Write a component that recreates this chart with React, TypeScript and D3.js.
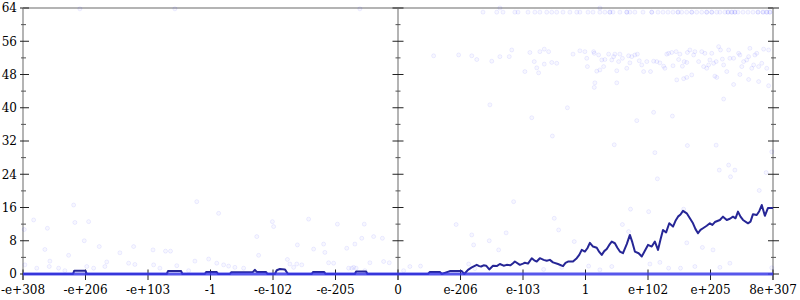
import React from "react";
import * as d3 from "d3";

const X_LABELS = ["-e+308", "-e+206", "-e+103", "-1", "-e-102", "-e-205", "0", "e-206", "e-103", "1", "e+102", "e+205", "8e+307"];
const Y_MAJOR = [0, 8, 16, 24, 32, 40, 48, 56, 64];
const Y_MINOR = [4, 12, 20, 28, 36, 44, 52, 60];
const AXIS_POS = [0, 6, 12];

// navy series: [position, bits of error]
const NAVY_LINE: [number, number][] = [
  [0, 0], [0.8, 0], [0.82, 0.8], [1.0, 0.8], [1.02, 0], [2.3, 0], [2.32, 0.7], [2.53, 0.7], [2.55, 0],
  [2.91, 0], [2.93, 0.5], [3.1, 0.5], [3.12, 0], [3.31, 0], [3.33, 0.4], [3.68, 0.5], [3.71, 1.0], [3.74, 0.5],
  [3.89, 0.5], [3.91, 0], [4.03, 0], [4.06, 0.9], [4.11, 1.2], [4.19, 1.1], [4.24, 0], [4.62, 0], [4.64, 0.5],
  [4.82, 0.5], [4.84, 0], [5.31, 0], [5.33, 0.6], [5.49, 0.6], [5.51, 0], [6.0, 0],
  [6.48, 0], [6.51, 0.5], [6.67, 0.5], [6.7, 0], [6.83, 0.7], [7.02, 0.7], [7.06, 0], [7.12, 1.0], [7.18, 1.6],
  [7.26, 2.2], [7.3, 1.9], [7.33, 1.8], [7.37, 2.1], [7.41, 2.0], [7.46, 1.1], [7.52, 2.0], [7.58, 1.9], [7.63, 2.4], [7.69, 2.0],
  [7.74, 2.2], [7.8, 2.1], [7.84, 2.6], [7.87, 3.0], [7.95, 2.2], [8.0, 2.5], [8.03, 2.7], [8.08, 2.5], [8.14, 3.8], [8.18, 3.3], [8.22, 3.0],
  [8.27, 3.8], [8.33, 3.4], [8.38, 3.2], [8.43, 3.4], [8.48, 2.8], [8.56, 2.4], [8.64, 1.9], [8.68, 2.7], [8.72, 3.0],
  [8.8, 3.0], [8.86, 3.8], [8.9, 4.6], [8.94, 5.8], [8.99, 5.4], [9.03, 6.2], [9.07, 7.5], [9.12, 6.6], [9.18, 6.3], [9.22, 5.3], [9.26, 4.6],
  [9.3, 5.5], [9.34, 6.0], [9.38, 7.0], [9.42, 7.8], [9.47, 7.4], [9.51, 6.3], [9.55, 5.4], [9.6, 5.0], [9.66, 7.2], [9.71, 9.4], [9.75, 7.6], [9.79, 5.4],
  [9.85, 5.0], [9.9, 4.2], [9.95, 5.6], [10.0, 7.0], [10.06, 6.6], [10.11, 7.8], [10.16, 5.8], [10.2, 8.3], [10.24, 10.6],
  [10.29, 10.0], [10.34, 12.2], [10.4, 11.4], [10.44, 12.8], [10.48, 13.8], [10.52, 14.3], [10.56, 15.2], [10.62, 14.6], [10.67, 13.4],
  [10.72, 12.2], [10.76, 10.8], [10.8, 9.8], [10.84, 10.6], [10.88, 11.0], [10.94, 11.6], [10.99, 12.2], [11.03, 11.8], [11.07, 12.5], [11.15, 13.0],
  [11.2, 13.8], [11.26, 13.0], [11.31, 13.3], [11.36, 13.8], [11.4, 13.4], [11.44, 15.0], [11.48, 13.8], [11.52, 13.0], [11.6, 12.2],
  [11.64, 12.6], [11.68, 14.4], [11.74, 14.2], [11.78, 15.1], [11.82, 16.6], [11.87, 14.0], [11.92, 15.9], [12.0, 15.9],
];

// blue series
const BLUE_LINE: [number, number][] = [[0, 0], [12, 0]];

// sampled points near the ceiling
const POINTS_TOP: [number, number][] = [
  [0.91, 63.8], [2.43, 63.8], [5.39, 63.8], [7.63, 64], [9.23, 64],
  [7.36, 63], [7.58, 63], [7.68, 63], [7.87, 63], [7.92, 63], [8.08, 63], [8.19, 63], [8.27, 63], [8.38, 63],
  [8.46, 63], [8.54, 63], [8.64, 63], [8.75, 63], [8.86, 63], [8.91, 63], [9.04, 63], [9.12, 63], [9.23, 63],
  [9.31, 63], [9.39, 63], [9.39, 63], [9.44, 63], [9.55, 63], [9.66, 63], [9.66, 63], [9.71, 63], [9.79, 63],
  [9.92, 63], [10.06, 63], [10.06, 63], [10.16, 63], [10.24, 63], [10.32, 63], [10.4, 63], [10.48, 63],
  [10.48, 63], [10.54, 63], [10.62, 63], [10.7, 63], [10.7, 63], [10.78, 63], [10.86, 63], [10.94, 63],
  [10.94, 63], [11.02, 63], [11.02, 63], [11.1, 63], [11.15, 63], [11.23, 63], [11.28, 63], [11.28, 63],
  [11.34, 63], [11.34, 63], [11.39, 63], [11.39, 63], [11.44, 63], [11.52, 63], [11.6, 63], [11.68, 63],
  [11.76, 63], [11.76, 63], [11.84, 63], [11.84, 63], [11.9, 63], [11.9, 63], [11.95, 63], [11.95, 63],
];

// sampled points in the upper band
const POINTS_BAND: [number, number][] = [
  [6.57, 52.5], [6.97, 52.7], [7.18, 52.5], [7.26, 51.6], [7.5, 51.2], [7.63, 52.3], [7.78, 52.3], [7.82, 53.9],
  [8.03, 48.7], [8.11, 53.3], [8.18, 51.1], [8.22, 49.6], [8.25, 48.4], [8.27, 53.5], [8.34, 54.1], [8.34, 50.5],
  [8.41, 53.5], [8.46, 50.9], [8.54, 50.7], [8.8, 52.9], [8.91, 53.7], [8.99, 53.5], [9.02, 51.9], [9.03, 49.9],
  [9.13, 53.5], [9.14, 53.1], [9.18, 48.8], [9.21, 52.7], [9.23, 49.1], [9.26, 51.5], [9.29, 49.9], [9.31, 51.6],
  [9.37, 52.9], [9.42, 51.5], [9.45, 52.3], [9.47, 52.9], [9.5, 48.9], [9.53, 51.1], [9.55, 52.9], [9.59, 51.9],
  [9.66, 49.5], [9.69, 52.5], [9.71, 50.8], [9.74, 52.3], [9.79, 52.7], [9.83, 52.9], [9.86, 51.3], [9.9, 50.3],
  [9.93, 48.7], [9.98, 51.1], [10.04, 48.7], [10.09, 51.2], [10.14, 51.1], [10.19, 50.8], [10.25, 50.0],
  [10.27, 49.5], [10.3, 52.9], [10.33, 53.1], [10.38, 53.3], [10.4, 50.1], [10.45, 53.5], [10.49, 51.6],
  [10.51, 52.9], [10.55, 50.0], [10.58, 51.1], [10.62, 50.9], [10.63, 53.3], [10.67, 53.9], [10.73, 52.7],
  [10.75, 53.5], [10.81, 51.1], [10.86, 53.5], [10.89, 49.9], [10.91, 53.1], [10.94, 49.5], [10.97, 50.3],
  [10.99, 51.5], [11.02, 53.1], [11.05, 50.7], [11.09, 51.1], [11.13, 54.7], [11.16, 53.9], [11.19, 51.7],
  [11.21, 50.3], [11.26, 48.7], [11.29, 53.9], [11.31, 51.9], [11.37, 51.9], [11.45, 53.1], [11.47, 52.7],
  [11.5, 49.9], [11.53, 51.1], [11.58, 51.5], [11.61, 52.3], [11.63, 54.3], [11.66, 49.5], [11.69, 50.3],
  [11.71, 52.7], [11.74, 53.1], [11.77, 49.9], [11.82, 50.7], [11.85, 54.1], [11.9, 49.5], [11.93, 53.9],
  [9.15, 46.0], [9.14, 44.9], [9.5, 46.0], [10.46, 46.7], [10.57, 47.0], [10.62, 47.3], [10.7, 47.9],
  [11.07, 47.6], [11.1, 47.3], [11.47, 48.0], [11.61, 46.8], [11.77, 46.3],
];

// sampled points in the lower region
const POINTS_LOW: [number, number][] = [
  [11.37, 45.6], [11.93, 45.3], [11.21, 42.1], [7.47, 40.7], [8.71, 40.0], [8.14, 37.6], [10.09, 38.9],
  [10.39, 38.0], [9.82, 36.9], [8.47, 33.2], [9.46, 31.1], [10.11, 29.2], [10.63, 30.9], [11.09, 31.0],
  [11.14, 25.0], [11.29, 26.2], [11.39, 25.0], [11.32, 23.4], [11.89, 24.4], [11.98, 29.4], [10.15, 22.9],
  [11.78, 20.1], [7.85, 17.4], [9.72, 15.6], [10.57, 15.6],
  [6.93, 11.9], [7.18, 9.4], [7.73, 9.9], [7.46, 8.0], [7.61, 5.8], [8.5, 13.4], [8.57, 10.6], [8.82, 7.8],
  [6.19, 1.8], [6.36, 1.9], [7.13, 2.4], [7.23, 1.3], [8.33, 1.1], [8.62, 1.6], [6.09, 0.8], [7.21, 7.0],
  [10.01, 15.0], [9.59, 11.9], [9.69, 10.2], [10.62, 7.5], [10.87, 6.4], [11.04, 5.8], [10.03, 2.4], [9.05, 1.9],
  [10.19, 2.8], [10.33, 1.4], [10.52, 1.4], [10.75, 1.8], [11.31, 2.6], [11.15, 1.6], [9.23, 1.0], [9.42, 1.8],
  [11.98, 1.5],
  [5.46, 12.0], [5.31, 7.2], [5.61, 9.0], [5.75, 8.6], [5.42, 8.6], [5.18, 6.2], [5.77, 3.0], [5.86, 2.7],
  [5.55, 2.7], [5.26, 1.4], [5.33, 1.4],
  [0.81, 16.6], [2.78, 17.4], [0.17, 13.0], [0.83, 12.4], [1.05, 12.6], [0.39, 11.0], [3.13, 14.6], [0.98, 8.0],
  [1.22, 6.6], [1.77, 6.6], [0.35, 5.9], [0.73, 4.5], [1.55, 5.1], [2.08, 5.8], [2.28, 5.5], [2.36, 5.5],
  [3.99, 12.6], [4.01, 11.4], [4.57, 13.2], [5.03, 12.0], [3.74, 9.0], [3.77, 4.5], [4.39, 7.0], [4.81, 7.2],
  [4.65, 6.0], [4.83, 5.2], [0.43, 3.1], [0.42, 1.8], [0.22, 1.4], [0.03, 2.2], [0.02, 10.7], [0.57, 1.4],
  [0.67, 0.8], [1.02, 1.8], [1.13, 1.4], [1.31, 1.8], [1.34, 2.9], [1.69, 2.6], [1.79, 2.3], [2.09, 2.2],
  [2.19, 1.4], [2.46, 2.0], [2.65, 0.8], [2.75, 3.1], [2.97, 3.6], [3.1, 2.6], [3.21, 2.2], [3.29, 1.9],
  [3.39, 1.6], [3.53, 1.4], [4.23, 3.5], [4.27, 2.4], [4.38, 2.4], [4.46, 2.2], [4.33, 1.6], [4.89, 2.7],
  [4.97, 2.6], [5.21, 1.4], [5.29, 1.6], [5.47, 0.8],
];

const W = 800;
const H = 300;
const FONT = "'DejaVu Serif', serif";

export default function App() {
  const x = d3.scaleLinear().domain([0, 12]).range([23, 773]);
  const y = d3.scaleLinear().domain([0, 64]).range([274, 8]);
  const line = d3.line<[number, number]>().x((d) => x(d[0])).y((d) => y(d[1]));
  const points = [...POINTS_TOP, ...POINTS_BAND, ...POINTS_LOW];

  const tickSpec = (pos: number) => {
    if (pos === 0) return { majL: 3, majR: 6, minL: 2, minR: 3 };
    if (pos === 12) return { majL: 5, majR: 6, minL: 2, minR: 3 };
    return { majL: 5.5, majR: 5.5, minL: 2.5, minR: 2.5 };
  };

  return (
    <svg width={W} height={H} style={{ position: "absolute", left: 0, top: 0, background: "#fff" }}>
      <line x1={x(0)} x2={x(12)} y1={y(64)} y2={y(64)} stroke="#b4b4b4" strokeWidth={2} />
      {AXIS_POS.map((p) => (
        <line key={"ax" + p} x1={x(p)} x2={x(p)} y1={y(64)} y2={280} stroke="#b4b4b4" strokeWidth={2} />
      ))}
      {AXIS_POS.map((p) => {
        const t = tickSpec(p);
        return (
          <g key={"t" + p}>
            {Y_MAJOR.map((v) => (
              <line key={"M" + v} x1={x(p) - t.majL} x2={x(p) + t.majR} y1={y(v)} y2={y(v)} stroke="#222" strokeWidth={1} />
            ))}
            {Y_MINOR.map((v) => (
              <line key={"m" + v} x1={x(p) - t.minL} x2={x(p) + t.minR} y1={y(v)} y2={y(v)} stroke="#555" strokeWidth={1} />
            ))}
          </g>
        );
      })}
      {X_LABELS.map((l, i) => (
        <line key={"xt" + i} x1={x(i)} x2={x(i)} y1={269.5} y2={280} stroke="#222" strokeWidth={1} />
      ))}
      {Y_MAJOR.map((v) => (
        <text key={"yl" + v} x={17} y={y(v) + 4.4} textAnchor="end" fontFamily={FONT} fontSize={12} fill="#000">
          {v}
        </text>
      ))}
      {X_LABELS.map((l, i) => (
        <text key={"xl" + i} x={x(i)} y={294} textAnchor="middle" fontFamily={FONT} fontSize={12} fill="#000">
          {l}
        </text>
      ))}
      <g>
        {points.map((d, i) => (
          <circle key={i} cx={x(d[0])} cy={y(d[1])} r={2} fill="rgba(0,0,255,0.03)" stroke="rgba(0,0,255,0.07)" strokeWidth={1} />
        ))}
      </g>
      <path d={line(NAVY_LINE) || ""} fill="none" stroke="#262696" strokeWidth={2} strokeLinejoin="round" />
      <path d={line(BLUE_LINE) || ""} fill="none" stroke="#3a3ae8" strokeOpacity={0.85} strokeWidth={3} />
    </svg>
  );
}
